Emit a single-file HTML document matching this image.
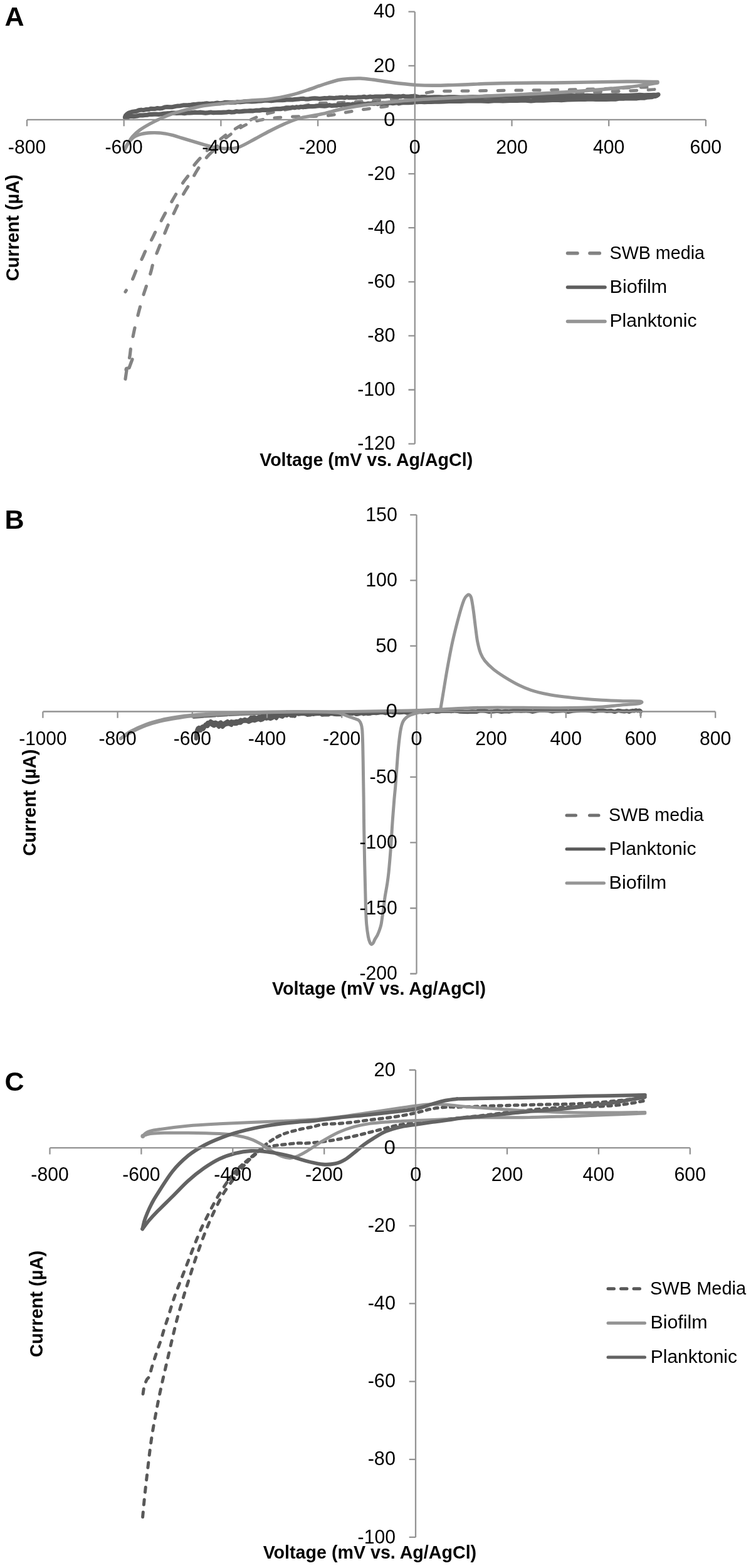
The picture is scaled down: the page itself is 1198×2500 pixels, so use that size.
<!DOCTYPE html>
<html><head><meta charset="utf-8"><title>Cyclic voltammetry</title>
<style>html,body{margin:0;padding:0;background:#fff}svg{display:block}text{font-family:'Liberation Sans', sans-serif}</style>
</head><body>
<svg width="1198" height="2500" viewBox="0 0 1198 2500">
<rect width="1198" height="2500" fill="#fff"/>
<path d="M200.0,465.3C201.9,462.0 208.5,451.1 211.4,445.3C214.3,439.5 215.1,435.7 217.6,430.3C220.1,424.9 223.9,417.9 226.4,412.7C228.9,407.5 230.0,404.2 232.6,399.0C235.2,393.8 239.5,386.6 242.2,381.4C244.9,376.2 246.2,372.9 248.9,367.7C251.6,362.5 255.5,355.2 258.2,350.1C260.9,345.0 262.4,342.1 265.2,337.1C267.9,332.1 271.8,325.2 274.7,320.1C277.6,315.0 279.7,311.3 282.7,306.3C285.7,301.3 289.9,294.4 292.8,290.0C295.7,285.6 297.4,284.5 300.3,280.0C303.2,275.5 305.2,269.4 310.2,262.8C315.2,256.2 326.9,244.0 330.3,240.2" fill="none" stroke="#838383" stroke-width="5.2" stroke-linecap="round" stroke-linejoin="round" stroke-dasharray="14 20.5" stroke-dashoffset="11"/>
<path d="M330.3,240.2C335.3,236.0 349.9,222.7 360.3,215.2C370.7,207.7 384.5,199.9 392.9,195.1C401.2,190.3 404.1,188.9 410.4,186.4C416.6,183.9 423.0,182.0 430.4,180.1C437.8,178.2 446.7,176.7 455.0,175.0C463.3,173.3 471.7,171.7 480.0,170.0C488.3,168.3 495.8,166.0 505.0,165.0C514.2,164.0 525.8,164.4 535.0,164.0C544.2,163.6 550.8,163.0 560.0,162.5C569.2,162.0 576.7,162.1 590.0,161.0C603.3,159.9 625.0,158.2 640.0,156.0C655.0,153.8 670.0,149.7 680.0,148.0C690.0,146.3 690.0,146.1 700.0,145.6C710.0,145.1 717.8,145.3 740.0,145.0C762.2,144.7 800.7,144.4 833.0,144.0C865.3,143.6 906.2,143.1 934.0,142.4C961.8,141.7 980.8,140.7 1000.0,140.0C1019.2,139.3 1040.8,138.7 1049.0,138.4" fill="none" stroke="#838383" stroke-width="5" stroke-linecap="round" stroke-linejoin="round" stroke-dasharray="10 18.5"/>
<path d="M200.0,604.3C200.5,601.1 201.8,591.0 203.0,585.0C204.2,579.0 206.0,573.5 207.0,568.0C208.0,562.5 208.1,557.3 209.0,551.7C209.9,546.1 211.4,540.0 212.6,534.2C213.8,528.4 215.0,522.6 216.4,516.7C217.8,510.9 219.5,504.7 220.9,499.1C222.3,493.6 223.7,488.6 225.1,483.4C226.5,478.2 228.0,472.9 229.6,467.8C231.2,462.7 232.8,458.2 234.6,452.8C236.4,447.4 238.5,441.1 240.2,435.3C241.9,429.5 242.9,423.8 244.7,418.2C246.4,412.6 248.6,407.4 250.7,402.0C252.8,396.6 255.0,391.2 257.2,385.7C259.4,380.2 261.8,374.3 264.0,368.9C266.2,363.5 268.3,358.2 270.7,353.1C273.1,348.0 275.8,343.1 278.2,338.1C280.6,333.1 282.6,328.3 285.2,323.1C287.8,317.9 291.1,312.1 294.0,307.0C296.9,301.9 299.2,298.9 302.7,292.8C306.2,286.7 310.6,277.4 315.2,270.3C319.8,263.2 326.1,255.2 330.3,250.2C334.5,245.2 338.6,241.9 340.3,240.2" fill="none" stroke="#838383" stroke-width="5.2" stroke-linecap="round" stroke-linejoin="round" stroke-dasharray="14 20.5"/>
<path d="M201,589.5L201.5,587.5L206,586.5L211,573" fill="none" stroke="#838383" stroke-width="5.2" stroke-linecap="round" stroke-linejoin="round"/>
<path d="M340.3,240.2C343.6,236.8 352.0,226.7 360.3,220.0C368.6,213.3 380.8,204.8 390.0,200.0C399.2,195.2 406.6,193.5 415.4,191.4C424.2,189.3 432.2,188.6 443.0,187.6C453.8,186.6 470.5,185.9 480.0,185.6C489.5,185.2 492.5,185.8 500.0,185.5C507.5,185.2 516.7,185.0 525.0,184.0C533.3,183.0 540.8,181.1 550.0,179.5C559.2,177.9 570.0,176.0 580.0,174.5C590.0,173.0 600.8,171.9 610.0,170.5C619.2,169.1 625.8,167.6 635.0,166.0C644.2,164.4 654.2,162.3 665.0,161.0C675.8,159.7 677.5,159.2 700.0,158.0C722.5,156.8 763.8,155.6 800.0,154.0C836.2,152.4 878.2,150.2 917.0,148.4C955.8,146.6 1011.0,144.6 1033.0,143.4C1055.0,142.2 1046.3,141.4 1049.0,141.0" fill="none" stroke="#838383" stroke-width="5" stroke-linecap="round" stroke-linejoin="round" stroke-dasharray="10 18.5"/>
<path d="M199.5,186.6L200.3,184.4L202.4,182.1L205.2,180.1L208.3,179.2L211.6,178.2L215.0,177.7L218.1,177.2L221.4,175.8L225.3,175.1L228.7,175.6L232.7,174.6L237.3,174.5L240.6,173.2L244.0,173.4L247.6,173.4L251.2,172.5L254.9,172.9L258.7,172.5L262.6,171.0L266.7,170.5L270.9,170.7L275.1,170.7L279.4,169.6L283.7,168.9L287.9,168.7L292.1,167.8L296.3,167.7L300.5,167.5L304.7,167.2L308.9,166.5L313.1,166.2L317.3,165.8L321.5,165.8L325.7,165.3L329.9,164.7L334.1,165.4L338.2,164.9L342.4,164.7L346.6,164.0L350.8,164.7L354.9,164.3L359.1,163.2L363.1,163.3L367.1,163.5L371.1,163.2L375.1,163.3L379.2,162.4L383.4,162.7L387.7,162.3L392.3,161.7L396.9,161.8L401.6,162.0L406.5,161.8L411.4,161.2L416.5,161.1L421.8,160.3L427.2,160.3L432.8,160.7L438.6,160.0L444.6,159.4L447.6,159.7L450.6,159.7L453.8,159.5L456.9,159.0L460.1,158.9L463.3,158.8L466.6,159.0L469.9,158.5L473.2,158.2L476.6,158.1L480.0,157.4L483.5,157.3L487.1,157.9L490.8,158.1L494.5,157.5L498.3,157.1L502.2,156.7L506.1,157.0L510.0,157.4L513.9,157.0L517.8,156.6L521.7,156.8L525.5,156.0L529.2,156.2L532.9,156.6L536.5,156.0L540.0,155.8L543.4,155.4L546.7,155.6L550.0,156.0L553.2,154.8L556.4,155.7L559.5,155.6L562.6,155.6L565.6,155.4L568.7,155.4L571.7,154.9L574.7,154.9L577.7,154.7L580.8,154.2L583.8,155.1L586.9,154.7L590.0,154.1L593.1,154.4L596.2,154.3L599.2,154.1L602.3,154.0L605.3,154.1L608.3,154.1L611.3,154.0L614.4,153.8L617.4,153.2L620.5,153.3L623.6,153.2L626.8,153.7L630.0,153.9L633.3,153.9L636.6,153.8L640.0,153.9L643.3,153.2L646.3,154.0L651.8,154.0L657.1,153.6L662.7,153.8L665.8,154.0L669.2,155.0L673.0,154.5L677.2,154.5L682.0,155.2L687.3,154.9L693.3,154.7L700.0,154.8L707.5,155.2L715.8,154.8L724.7,154.8L734.2,155.3L744.3,154.9L754.8,154.6L765.7,154.7L776.8,154.0L788.2,154.3L799.7,154.2L811.2,153.8L822.7,153.6L834.2,154.4L845.4,153.8L856.4,153.3L867.0,153.6L877.7,153.8L888.9,152.7L900.5,152.5L912.3,152.5L924.3,153.1L936.3,152.3L948.3,152.8L960.1,152.6L971.5,152.3L982.6,151.8L993.1,152.6L1003.0,152.2L1012.2,151.8L1020.4,151.3L1027.8,151.7L1034.0,151.4L1039.1,151.5L1043.2,151.2L1046.3,151.5L1050.1,150.8L1049.8,151.2L1048.0,152.1" fill="none" stroke="#5e5e5e" stroke-width="7" stroke-linecap="round" stroke-linejoin="round"/>
<path d="M199.5,187.5L203.2,187.0L206.3,185.6L209.7,185.2L213.0,185.6L216.8,185.1L220.1,184.6L223.5,183.8L227.6,183.8L231.3,183.5L235.7,183.1L238.9,182.3L242.3,182.4L245.8,182.1L249.4,182.2L253.1,182.3L256.8,182.0L260.6,181.4L264.6,181.0L268.8,180.7L273.0,180.2L277.2,180.0L281.5,180.4L285.8,180.1L290.0,180.1L294.2,180.6L298.4,180.0L302.6,180.0L306.8,179.6L311.0,179.2L315.2,179.5L319.4,179.2L323.6,179.6L327.8,180.1L332.0,179.6L336.2,179.0L340.3,179.7L344.5,179.5L348.7,179.3L352.8,179.4L357.0,179.1L361.1,179.0L365.1,178.3L369.1,178.9L373.1,178.7L377.1,177.5L381.3,178.0L385.5,177.7L390.0,177.2L394.6,177.0L399.3,176.6L404.0,176.8L408.9,176.0L414.0,176.1L419.1,175.1L424.5,175.4L430.0,175.0L435.7,174.0L441.6,173.6L447.6,173.6L450.6,173.0L453.8,172.5L456.9,171.9L460.1,171.8L463.3,172.0L466.6,171.1L469.9,171.7L473.2,170.7L476.6,171.2L480.0,170.3L483.5,170.8L487.1,170.3L490.8,169.9L494.5,169.7L498.3,169.7L502.2,169.4L506.1,168.9L510.0,168.6L513.9,168.8L517.8,169.1L521.7,168.6L525.5,167.7L529.2,168.5L532.9,168.2L536.5,168.2L540.0,167.2L543.4,167.7L546.7,166.8L550.0,167.3L553.2,166.7L556.4,166.5L559.5,167.2L562.6,166.1L565.6,166.5L568.7,166.8L571.7,165.9L574.7,165.7L577.7,166.4L580.8,165.8L583.8,166.0L586.9,165.1L590.0,165.3L593.1,165.0L596.2,165.5L599.2,164.7L602.3,165.6L605.3,164.4L608.3,165.2L611.3,164.3L614.4,164.5L617.4,165.0L620.5,164.2L623.6,164.1L626.8,164.6L630.0,164.2L633.3,163.7L636.6,164.7L640.0,163.6L643.3,163.3L646.3,163.6L651.8,163.6L657.1,163.5L662.7,162.5L665.8,162.6L669.2,162.1L673.0,162.4L677.2,162.7L682.0,162.5L687.3,162.5L693.3,162.2L700.0,162.2L707.6,161.9L716.0,161.5L725.2,161.1L735.0,161.5L745.4,161.0L756.3,160.7L767.5,161.0L778.9,161.4L790.5,160.4L802.2,160.8L813.7,160.5L825.1,160.5L836.3,160.0L847.0,160.8L857.3,159.9L867.0,160.1L876.4,159.7L885.9,159.1L895.5,159.6L905.0,158.9L914.4,158.6L923.7,158.3L932.9,158.3L941.8,158.0L950.5,158.4L958.9,158.1L966.9,158.4L974.5,158.2L981.7,158.1L988.3,157.0L994.5,157.1L1000.0,156.7L1004.9,157.0L1009.1,156.9L1012.8,157.0L1015.9,156.8L1020.9,156.1L1024.4,156.2L1028.2,156.1L1031.4,155.2L1035.4,154.8L1039.2,154.7L1042.3,153.7L1045.3,153.5L1048.0,152.2" fill="none" stroke="#5e5e5e" stroke-width="7.2" stroke-linecap="round" stroke-linejoin="round"/>
<path d="M199.0,238.0C199.8,236.5 201.9,232.4 204.0,229.0C206.1,225.6 208.5,221.2 211.7,217.5C214.9,213.8 218.7,210.4 223.4,207.0C228.1,203.6 234.4,200.1 240.0,197.0C245.6,193.9 251.2,191.1 256.8,188.6C262.4,186.1 267.9,183.8 273.5,181.9C279.1,180.0 284.6,178.5 290.2,176.9C295.8,175.3 301.3,173.9 306.9,172.6C312.5,171.2 315.2,170.1 323.6,168.8C332.0,167.5 345.9,166.3 357.0,165.0C368.1,163.7 377.8,162.2 390.0,161.0C402.2,159.8 417.5,159.6 430.0,158.0C442.5,156.4 455.0,153.8 465.0,151.4C475.0,149.0 481.7,146.5 490.0,143.8C498.3,141.1 506.7,137.7 515.0,135.0C523.3,132.3 532.9,129.1 540.0,127.5C547.1,125.9 551.9,125.9 557.7,125.5C563.5,125.1 568.8,124.8 575.0,125.0C581.2,125.2 588.3,126.2 595.0,127.0C601.7,127.8 607.5,128.9 615.0,130.0C622.5,131.1 631.7,132.4 640.0,133.3C648.3,134.2 656.7,135.1 665.0,135.6C673.3,136.1 681.7,136.3 690.0,136.3C698.3,136.3 706.7,136.0 715.0,135.8C723.3,135.6 725.8,135.5 740.0,135.0C754.2,134.5 773.3,133.2 800.0,132.7C826.7,132.1 866.7,132.1 900.0,131.7C933.3,131.2 975.2,130.2 1000.0,130.0C1024.8,129.8 1040.8,130.4 1049.0,130.5" fill="none" stroke="#959595" stroke-width="5.4" stroke-linecap="round" stroke-linejoin="round"/>
<path d="M199.0,238.0C199.8,236.5 201.7,232.2 204.0,229.0C206.3,225.8 209.3,221.6 213.0,219.0C216.7,216.4 221.4,214.9 225.9,213.7C230.4,212.5 234.8,212.1 240.0,211.8C245.2,211.5 251.2,211.6 256.8,212.1C262.4,212.6 267.9,213.8 273.5,215.1C279.1,216.4 284.6,218.4 290.2,220.1C295.8,221.8 301.3,223.4 306.9,225.1C312.5,226.8 318.1,228.5 323.6,230.1C329.1,231.7 333.9,233.3 340.0,234.5C346.1,235.7 353.3,236.9 360.0,237.0C366.7,237.1 372.5,237.4 380.0,235.0C387.5,232.6 396.7,226.8 405.0,222.5C413.3,218.2 421.7,213.2 430.0,209.0C438.3,204.8 446.7,200.5 455.0,197.0C463.3,193.5 470.0,190.6 480.0,188.0C490.0,185.4 505.0,183.6 515.0,181.4C525.0,179.2 531.7,176.9 540.0,175.0C548.3,173.1 556.7,171.4 565.0,170.0C573.3,168.6 581.7,167.5 590.0,166.4C598.3,165.3 606.7,164.3 615.0,163.4C623.3,162.5 631.7,161.7 640.0,161.0C648.3,160.3 655.0,159.7 665.0,159.0C675.0,158.3 677.5,158.2 700.0,157.0C722.5,155.8 766.7,153.7 800.0,152.0C833.3,150.3 866.7,149.2 900.0,147.0C933.3,144.8 975.2,141.5 1000.0,139.0C1024.8,136.5 1040.8,133.2 1049.0,132.0" fill="none" stroke="#959595" stroke-width="5.4" stroke-linecap="round" stroke-linejoin="round"/>
<path d="M43,190.9H1126M661.8,18.7V707.7M43.0,190.9v10.3M197.7,190.9v10.3M352.4,190.9v10.3M507.1,190.9v10.3M661.8,190.9v10.3M816.5,190.9v10.3M971.2,190.9v10.3M1125.9,190.9v10.3M661.8,18.7h-10.3M661.8,104.8h-10.3M661.8,190.9h-10.3M661.8,277.1h-10.3M661.8,363.2h-10.3M661.8,449.3h-10.3M661.8,535.4h-10.3M661.8,621.5h-10.3M661.8,707.7h-10.3" fill="none" stroke="#939393" stroke-width="2.3"/>
<text x="43.0" y="244.5" font-size="31.5" text-anchor="middle" font-weight="normal" fill="#000" textLength="60.3" lengthAdjust="spacingAndGlyphs">-800</text>
<text x="197.7" y="244.5" font-size="31.5" text-anchor="middle" font-weight="normal" fill="#000" textLength="60.3" lengthAdjust="spacingAndGlyphs">-600</text>
<text x="352.4" y="244.5" font-size="31.5" text-anchor="middle" font-weight="normal" fill="#000" textLength="60.3" lengthAdjust="spacingAndGlyphs">-400</text>
<text x="507.1" y="244.5" font-size="31.5" text-anchor="middle" font-weight="normal" fill="#000" textLength="60.3" lengthAdjust="spacingAndGlyphs">-200</text>
<text x="661.8" y="244.5" font-size="31.5" text-anchor="middle" font-weight="normal" fill="#000" textLength="18.4" lengthAdjust="spacingAndGlyphs">0</text>
<text x="816.5" y="244.5" font-size="31.5" text-anchor="middle" font-weight="normal" fill="#000" textLength="50.6" lengthAdjust="spacingAndGlyphs">200</text>
<text x="971.2" y="244.5" font-size="31.5" text-anchor="middle" font-weight="normal" fill="#000" textLength="50.6" lengthAdjust="spacingAndGlyphs">400</text>
<text x="1125.9" y="244.5" font-size="31.5" text-anchor="middle" font-weight="normal" fill="#000" textLength="50.6" lengthAdjust="spacingAndGlyphs">600</text>
<text x="630.5" y="28.4" font-size="31.5" text-anchor="end" font-weight="normal" fill="#000" textLength="34.5" lengthAdjust="spacingAndGlyphs">40</text>
<text x="630.5" y="114.5" font-size="31.5" text-anchor="end" font-weight="normal" fill="#000" textLength="34.5" lengthAdjust="spacingAndGlyphs">20</text>
<text x="630.5" y="200.6" font-size="31.5" text-anchor="end" font-weight="normal" fill="#000" textLength="18.4" lengthAdjust="spacingAndGlyphs">0</text>
<text x="630.5" y="286.8" font-size="31.5" text-anchor="end" font-weight="normal" fill="#000" textLength="44.2" lengthAdjust="spacingAndGlyphs">-20</text>
<text x="630.5" y="372.9" font-size="31.5" text-anchor="end" font-weight="normal" fill="#000" textLength="44.2" lengthAdjust="spacingAndGlyphs">-40</text>
<text x="630.5" y="459.0" font-size="31.5" text-anchor="end" font-weight="normal" fill="#000" textLength="44.2" lengthAdjust="spacingAndGlyphs">-60</text>
<text x="630.5" y="545.1" font-size="31.5" text-anchor="end" font-weight="normal" fill="#000" textLength="44.2" lengthAdjust="spacingAndGlyphs">-80</text>
<text x="630.5" y="631.2" font-size="31.5" text-anchor="end" font-weight="normal" fill="#000" textLength="60.3" lengthAdjust="spacingAndGlyphs">-100</text>
<text x="630.5" y="717.4" font-size="31.5" text-anchor="end" font-weight="normal" fill="#000" textLength="60.3" lengthAdjust="spacingAndGlyphs">-120</text>
<text x="584.2" y="743" font-size="29.3" text-anchor="middle" font-weight="bold" fill="#000" textLength="340" lengthAdjust="spacingAndGlyphs">Voltage (mV vs. Ag/AgCl)</text>
<text x="30.5" y="363.2" font-size="29.3" text-anchor="middle" font-weight="bold" fill="#000" textLength="170" lengthAdjust="spacingAndGlyphs" transform="rotate(-90 30.5 363.2)">Current (µA)</text>
<text x="7.5" y="40.5" font-size="43" text-anchor="start" font-weight="bold" fill="#000">A</text>
<path d="M905.5,403.7H965" fill="none" stroke="#838383" stroke-width="5.5" stroke-linecap="round" stroke-linejoin="round" stroke-dasharray="15.5 19.9"/>
<path d="M905.5,457.9H965" fill="none" stroke="#5e5e5e" stroke-width="5.5" stroke-linecap="round" stroke-linejoin="round"/>
<path d="M905.5,512.4H965" fill="none" stroke="#959595" stroke-width="5.5" stroke-linecap="round" stroke-linejoin="round"/>
<text x="972.5" y="412.8" font-size="29.5" text-anchor="start" font-weight="normal" fill="#000" textLength="151.5" lengthAdjust="spacingAndGlyphs">SWB media</text>
<text x="972.5" y="467.2" font-size="29.5" text-anchor="start" font-weight="normal" fill="#000" textLength="91.7" lengthAdjust="spacingAndGlyphs">Biofilm</text>
<text x="972.5" y="521.4" font-size="29.5" text-anchor="start" font-weight="normal" fill="#000" textLength="139" lengthAdjust="spacingAndGlyphs">Planktonic</text>
<path d="M309,1144 C340,1141.5 380,1138.5 450,1137 S600,1135.5 664,1135 S900,1134 1022,1133.5" fill="none" stroke="#707070" stroke-width="4" stroke-linecap="round" stroke-linejoin="round" stroke-dasharray="16 3"/>
<path d="M312.8,1173.1L312.9,1171.6L313.1,1168.0L313.3,1166.7L314.0,1164.5L315.5,1160.8L317.6,1159.7L320.0,1161.7L322.1,1158.8L324.3,1157.7L326.2,1158.9L327.5,1155.1L329.1,1154.5L331.3,1152.0L333.5,1152.0L336.0,1149.9L338.8,1151.5L341.1,1152.4L343.6,1151.5L346.4,1152.8L349.2,1153.1L352.1,1151.3L355.0,1153.9L357.7,1153.1L360.3,1151.6L362.9,1149.9L365.8,1152.2L369.1,1150.1L371.6,1150.6L374.4,1150.7L377.4,1149.7L380.6,1149.9L383.9,1147.6L387.2,1148.5L390.6,1146.8L393.8,1148.0L397.0,1147.3L400.1,1144.0L403.2,1143.5L406.3,1143.3L409.5,1145.4L412.6,1142.9L415.7,1143.1L418.8,1141.3L422.0,1141.6L425.1,1140.6L428.3,1140.0L431.4,1140.3L434.6,1139.8L437.7,1140.5L440.8,1139.3L443.9,1139.7L447.1,1139.1L450.5,1139.2L454.0,1137.7L457.6,1135.5L461.0,1137.6L464.2,1137.7L466.9,1137.3L469.1,1135.8L470.0,1136.3" fill="none" stroke="#5a5a5a" stroke-width="6" stroke-linecap="round" stroke-linejoin="round"/>
<path d="M312.8,1177.7L312.9,1174.4L313.1,1173.6L313.3,1168.9L314.0,1168.7L315.5,1166.3L317.6,1164.0L320.0,1165.0L322.1,1162.1L324.3,1162.8L326.2,1159.7L327.5,1157.9L329.1,1157.5L331.3,1158.0L333.5,1154.3L336.0,1154.4L338.8,1156.1L341.1,1157.5L343.6,1156.2L346.4,1155.9L349.2,1159.1L352.1,1155.4L355.0,1159.1L357.7,1156.3L360.3,1155.2L362.9,1154.5L365.8,1154.6L369.1,1156.1L371.6,1152.9L374.4,1154.2L377.4,1154.0L380.6,1152.4L383.9,1152.7L387.2,1150.0L390.6,1149.5L393.8,1149.7L397.0,1151.2L400.1,1149.6L403.2,1148.5L406.3,1149.2L409.5,1148.0L412.6,1146.8L415.7,1148.4L418.8,1147.4L422.0,1144.9L425.1,1145.9L428.3,1145.1L431.4,1146.2L434.6,1145.0L437.7,1142.6L440.8,1145.2L443.9,1141.0L447.1,1141.9L450.5,1143.0L454.0,1140.0L457.6,1141.1L461.0,1138.8L464.2,1141.3L466.9,1141.5L469.1,1140.4L470.0,1141.7" fill="none" stroke="#5a5a5a" stroke-width="6" stroke-linecap="round" stroke-linejoin="round"/>
<path d="M470.0,1138.1L473.5,1137.8L476.5,1138.5L480.0,1138.0L483.9,1137.8L488.1,1138.5L490.4,1139.7L492.7,1139.4L495.1,1139.3L497.5,1138.1L500.0,1138.8L502.6,1138.2L505.3,1137.9L508.1,1137.8L511.1,1138.0L514.1,1139.6L517.3,1139.3L520.5,1139.2L523.8,1139.2L527.0,1137.8L530.4,1138.1L533.7,1138.7L537.0,1138.9L540.3,1139.1L543.6,1139.1L546.8,1137.4L550.0,1138.4L553.1,1138.5L556.2,1138.1L559.2,1137.3L562.2,1137.8L565.2,1136.9L568.1,1138.7L571.1,1138.4L574.1,1137.6L577.2,1137.0L580.2,1138.2L583.3,1137.4L586.5,1137.9L589.8,1137.8L593.1,1136.9L596.5,1136.6L600.0,1136.9L603.7,1136.5L607.5,1135.8L611.5,1136.0L615.7,1137.0L619.9,1135.2L624.2,1135.1L628.5,1136.3L632.9,1135.4L637.2,1135.9L641.4,1135.7L645.6,1135.3L649.6,1136.6L653.5,1134.8L657.2,1135.2L660.7,1134.6L664.0,1135.5L666.9,1134.6L669.4,1134.7L673.5,1135.4L676.7,1134.4L679.8,1134.8L683.0,1135.4L687.2,1133.5L689.7,1133.4L692.6,1133.7L696.0,1134.8L700.0,1134.5L704.5,1133.6L709.4,1133.7L714.8,1133.4L720.5,1133.9L726.5,1133.0L732.8,1134.4L739.3,1134.8L746.0,1134.9L752.8,1134.4L759.7,1134.8L766.6,1132.7L773.5,1133.3L780.3,1134.8L787.1,1134.3L793.6,1133.5L800.0,1134.7L806.2,1134.0L812.5,1134.4L818.8,1133.2L825.0,1133.0L831.2,1133.5L837.5,1132.9L843.8,1133.4L850.0,1134.7L856.2,1133.3L862.5,1132.6L868.8,1132.7L875.0,1133.0L881.2,1134.3L887.5,1133.4L893.8,1133.2L900.0,1132.8L906.4,1134.8L913.0,1133.5L919.9,1133.1L926.8,1132.7L933.9,1132.7L940.9,1133.0L947.9,1134.1L954.9,1133.0L961.6,1132.7L968.2,1133.7L974.5,1133.2L980.5,1134.8L986.1,1132.9L991.2,1133.8L995.9,1134.3L1000.0,1133.5L1003.6,1134.8L1006.6,1133.6L1009.3,1133.1L1011.5,1133.4L1014.9,1132.5L1017.2,1133.3L1019.9,1132.7L1022.0,1134.1" fill="none" stroke="#5a5a5a" stroke-width="6.5" stroke-linecap="round" stroke-linejoin="round"/>
<path d="M1022,1132V1141" fill="none" stroke="#5a5a5a" stroke-width="3" stroke-linecap="round" stroke-linejoin="round"/>
<path d="M192.5,1177.6C195.0,1176.1 200.9,1171.8 207.6,1168.4C214.3,1165.0 224.2,1160.1 232.6,1157.0C240.9,1153.9 249.3,1151.6 257.7,1149.6C266.1,1147.6 274.4,1146.3 282.7,1145.0C291.0,1143.7 297.3,1142.5 307.7,1141.5C318.1,1140.5 330.7,1139.8 345.3,1139.0C359.9,1138.2 374.6,1137.5 395.4,1136.8C416.2,1136.1 442.6,1135.4 470.0,1135.0C497.4,1134.6 530.0,1134.8 560.0,1134.5C590.0,1134.2 626.2,1133.6 650.0,1133.0C673.8,1132.4 693.9,1131.3 702.7,1131.0" fill="none" stroke="#959595" stroke-width="5" stroke-linecap="round" stroke-linejoin="round"/>
<path d="M192.5,1177.6C195.0,1175.7 200.9,1170.2 207.6,1166.4C214.3,1162.6 224.2,1158.1 232.6,1155.0C240.9,1151.9 249.3,1149.6 257.7,1147.6C266.1,1145.6 274.4,1144.3 282.7,1143.0C291.0,1141.7 297.3,1140.9 307.7,1140.0C318.1,1139.1 330.7,1138.3 345.3,1137.6C359.9,1136.9 374.6,1136.3 395.4,1135.8C416.2,1135.3 449.2,1134.7 470.0,1134.6C490.8,1134.5 508.3,1135.0 520.0,1135.3C531.7,1135.6 534.4,1135.5 540.0,1136.5C545.6,1137.5 548.9,1139.8 553.4,1141.4C557.9,1143.0 563.5,1144.8 566.7,1146.0C569.9,1147.2 571.1,1147.2 572.7,1148.7C574.3,1150.2 575.2,1152.1 576.1,1154.7C577.0,1157.3 577.4,1158.8 577.8,1164.1C578.2,1169.4 578.4,1176.3 578.7,1186.8C579.0,1197.2 579.2,1212.9 579.4,1226.8C579.6,1240.7 579.9,1253.9 580.1,1270.0C580.3,1286.1 580.4,1305.6 580.7,1323.4C581.0,1341.2 581.3,1359.0 581.7,1376.8C582.1,1394.6 582.7,1418.3 583.0,1430.0C583.3,1441.7 583.1,1439.5 583.4,1446.7C583.7,1453.9 584.0,1465.6 584.7,1473.4C585.4,1481.2 586.5,1488.6 587.4,1493.5C588.3,1498.4 589.2,1500.8 590.1,1502.8C591.0,1504.8 591.9,1505.6 592.8,1505.7C593.7,1505.8 594.5,1504.9 595.4,1503.5C596.3,1502.1 597.0,1499.6 598.1,1497.5C599.2,1495.4 600.9,1493.2 602.1,1490.8C603.3,1488.3 604.4,1485.7 605.4,1482.8C606.4,1479.9 607.3,1477.2 608.1,1473.4C608.9,1469.6 609.4,1464.5 610.1,1460.0C610.8,1455.5 611.4,1451.7 612.1,1446.7C612.8,1441.7 613.2,1436.1 614.1,1430.0C615.0,1423.9 616.5,1416.8 617.5,1410.2C618.5,1403.6 619.1,1400.2 620.1,1390.2C621.1,1380.2 622.5,1363.5 623.5,1350.1C624.5,1336.7 625.2,1322.5 626.1,1310.0C627.0,1297.5 628.0,1284.4 628.8,1275.0C629.6,1265.6 630.1,1261.6 630.8,1253.6C631.5,1245.6 632.1,1235.7 632.8,1226.8C633.5,1217.9 634.1,1207.9 634.8,1200.1C635.5,1192.3 636.1,1185.9 636.8,1180.1C637.5,1174.3 638.1,1169.4 638.8,1165.4C639.5,1161.4 640.0,1158.8 640.8,1156.1C641.6,1153.4 642.3,1151.4 643.5,1149.4C644.7,1147.4 646.3,1145.6 648.2,1144.0C650.1,1142.4 652.1,1141.2 654.9,1140.0C657.7,1138.8 660.7,1137.7 664.9,1136.7C669.1,1135.7 674.4,1134.8 680.2,1134.0C686.1,1133.2 696.2,1132.5 700.0,1132.0C703.8,1131.5 702.2,1131.2 702.7,1131.0" fill="none" stroke="#959595" stroke-width="5" stroke-linecap="round" stroke-linejoin="round"/>
<path d="M702.7,1131.0C703.4,1127.0 704.9,1117.7 706.7,1107.0C708.5,1096.3 710.9,1080.8 713.4,1066.9C715.9,1053.0 718.7,1037.4 721.8,1023.5C724.9,1009.6 728.8,994.5 731.8,983.4C734.8,972.3 737.9,962.4 740.1,956.7C742.3,951.0 743.7,950.8 745.1,949.4C746.5,948.0 747.4,947.7 748.5,948.4C749.6,949.1 750.7,949.2 751.8,953.4C752.9,957.6 754.1,965.6 755.2,973.4C756.3,981.2 757.4,991.6 758.5,1000.0C759.6,1008.4 760.4,1016.5 761.8,1023.5C763.2,1030.5 764.8,1036.9 766.8,1041.9C768.8,1046.9 770.1,1049.4 773.5,1053.6C776.9,1057.8 781.9,1062.7 786.9,1066.9C791.9,1071.1 796.9,1074.4 803.6,1078.6C810.3,1082.8 819.8,1088.4 827.0,1092.0C834.2,1095.6 839.2,1097.8 847.0,1100.3C854.8,1102.8 864.8,1105.2 873.7,1107.0C882.6,1108.8 891.5,1109.9 900.4,1111.0C909.3,1112.1 917.1,1112.8 927.1,1113.7C937.1,1114.6 949.4,1115.6 960.5,1116.3C971.6,1117.0 984.2,1117.4 993.9,1117.7C1003.6,1118.0 1013.9,1117.7 1018.9,1118.0C1023.9,1118.3 1024.2,1119.0 1023.9,1119.7C1023.6,1120.4 1022.3,1121.3 1017.3,1122.0C1012.3,1122.7 1003.4,1122.9 993.9,1123.7C984.4,1124.5 977.2,1126.2 960.5,1127.0C943.8,1127.8 921.5,1128.5 893.7,1128.7C865.9,1128.9 818.6,1128.0 793.6,1128.0C768.6,1128.0 758.6,1128.5 743.5,1129.0C728.4,1129.5 709.5,1130.7 702.7,1131.0" fill="none" stroke="#959595" stroke-width="5" stroke-linecap="round" stroke-linejoin="round"/>
<path d="M68.6,1134.5H1141.2M664.5,820.8V1552.5M68.4,1134.5v10.3M187.6,1134.5v10.3M306.8,1134.5v10.3M426.0,1134.5v10.3M545.2,1134.5v10.3M664.4,1134.5v10.3M783.6,1134.5v10.3M902.8,1134.5v10.3M1022.0,1134.5v10.3M1141.2,1134.5v10.3M664.5,820.8h-10.3M664.5,925.3h-10.3M664.5,1029.9h-10.3M664.5,1134.4h-10.3M664.5,1238.9h-10.3M664.5,1343.4h-10.3M664.5,1448.0h-10.3M664.5,1552.5h-10.3" fill="none" stroke="#939393" stroke-width="2.3"/>
<text x="68.4" y="1188" font-size="31.5" text-anchor="middle" font-weight="normal" fill="#000" textLength="76.4" lengthAdjust="spacingAndGlyphs">-1000</text>
<text x="187.6" y="1188" font-size="31.5" text-anchor="middle" font-weight="normal" fill="#000" textLength="60.3" lengthAdjust="spacingAndGlyphs">-800</text>
<text x="306.8" y="1188" font-size="31.5" text-anchor="middle" font-weight="normal" fill="#000" textLength="60.3" lengthAdjust="spacingAndGlyphs">-600</text>
<text x="426.0" y="1188" font-size="31.5" text-anchor="middle" font-weight="normal" fill="#000" textLength="60.3" lengthAdjust="spacingAndGlyphs">-400</text>
<text x="545.2" y="1188" font-size="31.5" text-anchor="middle" font-weight="normal" fill="#000" textLength="60.3" lengthAdjust="spacingAndGlyphs">-200</text>
<text x="664.4" y="1188" font-size="31.5" text-anchor="middle" font-weight="normal" fill="#000" textLength="18.4" lengthAdjust="spacingAndGlyphs">0</text>
<text x="783.6" y="1188" font-size="31.5" text-anchor="middle" font-weight="normal" fill="#000" textLength="50.6" lengthAdjust="spacingAndGlyphs">200</text>
<text x="902.8" y="1188" font-size="31.5" text-anchor="middle" font-weight="normal" fill="#000" textLength="50.6" lengthAdjust="spacingAndGlyphs">400</text>
<text x="1022.0" y="1188" font-size="31.5" text-anchor="middle" font-weight="normal" fill="#000" textLength="50.6" lengthAdjust="spacingAndGlyphs">600</text>
<text x="1141.2" y="1188" font-size="31.5" text-anchor="middle" font-weight="normal" fill="#000" textLength="50.6" lengthAdjust="spacingAndGlyphs">800</text>
<text x="633.8" y="830.5" font-size="31.5" text-anchor="end" font-weight="normal" fill="#000" textLength="50.6" lengthAdjust="spacingAndGlyphs">150</text>
<text x="633.8" y="935.0" font-size="31.5" text-anchor="end" font-weight="normal" fill="#000" textLength="50.6" lengthAdjust="spacingAndGlyphs">100</text>
<text x="633.8" y="1039.6" font-size="31.5" text-anchor="end" font-weight="normal" fill="#000" textLength="34.5" lengthAdjust="spacingAndGlyphs">50</text>
<text x="633.8" y="1144.1" font-size="31.5" text-anchor="end" font-weight="normal" fill="#000" textLength="18.4" lengthAdjust="spacingAndGlyphs">0</text>
<text x="633.8" y="1248.6" font-size="31.5" text-anchor="end" font-weight="normal" fill="#000" textLength="44.2" lengthAdjust="spacingAndGlyphs">-50</text>
<text x="633.8" y="1353.1" font-size="31.5" text-anchor="end" font-weight="normal" fill="#000" textLength="60.3" lengthAdjust="spacingAndGlyphs">-100</text>
<text x="633.8" y="1457.7" font-size="31.5" text-anchor="end" font-weight="normal" fill="#000" textLength="60.3" lengthAdjust="spacingAndGlyphs">-150</text>
<text x="633.8" y="1562.2" font-size="31.5" text-anchor="end" font-weight="normal" fill="#000" textLength="60.3" lengthAdjust="spacingAndGlyphs">-200</text>
<text x="604.5" y="1586.2" font-size="29.3" text-anchor="middle" font-weight="bold" fill="#000" textLength="341" lengthAdjust="spacingAndGlyphs">Voltage (mV vs. Ag/AgCl)</text>
<text x="56.6" y="1279.7" font-size="29.3" text-anchor="middle" font-weight="bold" fill="#000" textLength="170" lengthAdjust="spacingAndGlyphs" transform="rotate(-90 56.6 1279.7)">Current (µA)</text>
<text x="7.5" y="843" font-size="43" text-anchor="start" font-weight="bold" fill="#000">B</text>
<path d="M904,1300H963.5" fill="none" stroke="#707070" stroke-width="5" stroke-linecap="round" stroke-linejoin="round" stroke-dasharray="14.5 22"/>
<path d="M904,1353.8H963.5" fill="none" stroke="#5a5a5a" stroke-width="5" stroke-linecap="round" stroke-linejoin="round"/>
<path d="M904,1408H963.5" fill="none" stroke="#959595" stroke-width="5" stroke-linecap="round" stroke-linejoin="round"/>
<text x="971" y="1308.7" font-size="29.5" text-anchor="start" font-weight="normal" fill="#000" textLength="151.5" lengthAdjust="spacingAndGlyphs">SWB media</text>
<text x="971.5" y="1362.9" font-size="29.5" text-anchor="start" font-weight="normal" fill="#000" textLength="139" lengthAdjust="spacingAndGlyphs">Planktonic</text>
<text x="971.5" y="1417" font-size="29.5" text-anchor="start" font-weight="normal" fill="#000" textLength="91.7" lengthAdjust="spacingAndGlyphs">Biofilm</text>
<path d="M228.1,2222.5C228.4,2220.5 229.1,2214.2 230.1,2210.5C231.1,2206.8 232.7,2202.7 234.0,2200.0C235.3,2197.3 236.8,2197.8 238.1,2194.5C239.4,2191.2 240.3,2186.4 242.1,2180.4C243.9,2174.4 246.8,2165.4 249.1,2158.4C251.4,2151.4 253.9,2145.1 256.1,2138.4C258.3,2131.7 260.1,2124.7 262.1,2118.3C264.1,2112.0 266.1,2106.6 268.1,2100.3C270.1,2094.0 272.2,2086.6 274.2,2080.3C276.2,2074.0 278.0,2068.3 280.2,2062.3C282.4,2056.3 284.9,2050.2 287.2,2044.2C289.5,2038.2 291.9,2032.2 294.2,2026.2C296.5,2020.2 298.9,2014.2 301.2,2008.2C303.5,2002.2 305.7,1996.4 308.2,1990.1C310.7,1983.8 313.5,1976.4 316.2,1970.1C318.9,1963.8 321.3,1958.1 324.2,1952.1C327.1,1946.1 330.3,1939.9 333.3,1934.1C336.3,1928.2 339.1,1922.7 342.3,1917.0C345.5,1911.3 348.5,1906.1 352.3,1900.0C356.1,1893.9 363.1,1883.5 365.3,1880.2" fill="none" stroke="#585858" stroke-width="5" stroke-linecap="round" stroke-linejoin="round" stroke-dasharray="8 11.8"/>
<path d="M365.3,1880.2C367.8,1877.3 374.5,1868.5 380.3,1862.7C386.1,1856.9 394.5,1850.2 400.4,1845.2C406.2,1840.2 410.4,1836.8 415.4,1832.6C420.4,1828.4 424.6,1824.0 430.4,1820.0C436.2,1816.0 442.9,1811.9 450.4,1808.8C457.9,1805.7 467.2,1803.4 475.5,1801.3C483.8,1799.2 493.4,1797.8 500.0,1796.3C506.6,1794.8 508.4,1793.4 515.1,1792.6C521.8,1791.8 531.9,1792.0 540.2,1791.4C548.6,1790.8 556.9,1789.9 565.2,1788.9C573.6,1787.9 581.9,1786.6 590.3,1785.6C598.6,1784.5 606.9,1783.7 615.3,1782.6C623.6,1781.5 632.0,1780.4 640.4,1778.9C648.8,1777.4 657.1,1775.7 665.4,1773.8C673.7,1771.9 682.0,1769.1 690.4,1767.6C698.8,1766.1 708.3,1765.4 715.5,1765.0C722.7,1764.6 719.3,1765.4 733.4,1765.0C747.5,1764.6 777.7,1763.5 800.0,1762.8C822.3,1762.1 844.7,1761.6 867.0,1761.0C889.3,1760.4 911.5,1760.7 933.7,1759.4C956.0,1758.1 984.8,1755.0 1000.5,1753.4C1016.2,1751.8 1023.4,1750.6 1028.0,1750.0" fill="none" stroke="#585858" stroke-width="5.2" stroke-linecap="round" stroke-linejoin="round" stroke-dasharray="5.5 7.3"/>
<path d="M227.6,2418.7C228.0,2414.2 229.3,2400.3 230.1,2392.0C230.9,2383.7 231.7,2376.4 232.6,2368.6C233.5,2360.8 234.2,2354.3 235.3,2345.0C236.4,2335.7 237.8,2322.8 239.1,2312.7C240.4,2302.6 241.6,2293.9 243.1,2284.6C244.6,2275.2 246.4,2265.6 248.1,2256.6C249.8,2247.6 251.3,2239.5 253.1,2230.5C254.9,2221.5 257.1,2211.5 259.1,2202.5C261.1,2193.5 263.1,2185.1 265.1,2176.4C267.1,2167.7 269.1,2159.1 271.1,2150.4C273.1,2141.7 275.2,2132.8 277.2,2124.4C279.2,2116.1 281.0,2108.3 283.2,2100.3C285.4,2092.3 288.0,2083.6 290.2,2076.3C292.4,2069.0 294.0,2063.3 296.2,2056.3C298.4,2049.3 300.9,2041.6 303.2,2034.2C305.5,2026.8 307.9,2019.2 310.2,2012.2C312.5,2005.2 314.7,1999.1 317.2,1992.1C319.7,1985.1 322.5,1977.1 325.2,1970.1C327.9,1963.1 330.6,1956.4 333.3,1950.1C336.0,1943.8 338.5,1938.1 341.3,1932.1C344.1,1926.1 347.5,1919.3 350.3,1914.0C353.1,1908.7 355.0,1905.2 358.3,1900.0C361.6,1894.8 368.3,1885.6 370.3,1882.7" fill="none" stroke="#585858" stroke-width="5" stroke-linecap="round" stroke-linejoin="round" stroke-dasharray="8 11.8"/>
<path d="M370.3,1882.7C372.8,1879.4 380.2,1868.8 385.3,1862.7C390.4,1856.6 395.6,1851.0 401.0,1846.0C406.4,1841.0 412.6,1835.7 417.9,1832.6C423.2,1829.5 427.5,1828.8 432.9,1827.6C438.3,1826.3 443.3,1825.9 450.4,1825.1C457.5,1824.3 468.9,1823.0 475.5,1822.6C482.1,1822.2 483.4,1823.1 490.0,1822.7C496.6,1822.3 506.7,1821.2 515.1,1820.2C523.5,1819.2 531.9,1817.9 540.2,1816.4C548.6,1814.9 556.9,1813.3 565.2,1811.4C573.6,1809.5 581.9,1807.3 590.3,1805.2C598.6,1803.1 607.8,1800.8 615.3,1798.9C622.8,1797.0 627.1,1795.4 635.4,1793.9C643.7,1792.4 654.2,1791.3 665.0,1790.0C675.8,1788.7 683.2,1787.8 700.0,1786.0C716.8,1784.2 743.8,1781.5 766.0,1779.0C788.2,1776.5 810.7,1773.2 833.0,1771.0C855.3,1768.8 877.6,1766.8 900.0,1765.5C922.4,1764.2 950.4,1764.3 967.1,1763.4C983.9,1762.5 990.4,1761.4 1000.5,1760.0C1010.6,1758.6 1023.4,1755.8 1028.0,1755.0" fill="none" stroke="#585858" stroke-width="5.2" stroke-linecap="round" stroke-linejoin="round" stroke-dasharray="5.5 7.3"/>
<path d="M227.5,1811.3C228.8,1810.2 231.2,1806.7 235.0,1805.0C238.8,1803.3 239.1,1803.0 250.0,1801.3C260.9,1799.6 283.5,1796.6 300.2,1795.0C316.9,1793.4 333.6,1792.7 350.3,1791.8C367.0,1790.9 383.7,1790.2 400.4,1789.5C417.1,1788.8 433.8,1788.2 450.4,1787.5C467.0,1786.8 485.1,1786.1 500.0,1785.0C514.9,1783.9 525.0,1782.9 540.0,1781.0C555.0,1779.1 573.6,1776.2 590.3,1773.8C607.0,1771.3 625.8,1768.4 640.4,1766.3C655.0,1764.2 668.1,1762.3 678.0,1761.3C687.9,1760.3 693.5,1760.4 700.0,1760.5C706.5,1760.6 708.4,1761.0 716.7,1761.8C725.0,1762.5 736.1,1763.9 750.0,1765.0C763.9,1766.1 786.1,1767.4 800.0,1768.4C813.9,1769.4 816.9,1770.0 833.6,1770.8C850.3,1771.6 878.0,1773.0 900.3,1773.5C922.5,1774.0 945.7,1774.0 967.1,1774.0C988.5,1774.0 1018.6,1773.6 1028.9,1773.5" fill="none" stroke="#959595" stroke-width="5" stroke-linecap="round" stroke-linejoin="round"/>
<path d="M227.5,1811.3C229.6,1810.7 234.2,1808.3 240.0,1807.5C245.8,1806.7 252.6,1806.5 262.6,1806.3C272.6,1806.1 285.6,1806.1 300.2,1806.3C314.8,1806.5 337.8,1807.0 350.3,1807.6C362.8,1808.2 367.0,1808.5 375.3,1810.0C383.6,1811.5 393.3,1813.8 400.4,1816.3C407.5,1818.8 412.5,1821.9 417.9,1825.0C423.3,1828.1 427.5,1831.8 432.9,1835.0C438.3,1838.2 445.4,1842.0 450.4,1843.9C455.4,1845.8 458.8,1846.6 463.0,1846.4C467.2,1846.2 471.0,1844.9 475.5,1843.0C480.0,1841.1 483.4,1839.2 490.0,1835.2C496.6,1831.2 506.7,1823.9 515.1,1818.9C523.5,1813.9 531.9,1809.0 540.2,1805.2C548.6,1801.5 556.9,1798.7 565.2,1796.4C573.6,1794.1 581.9,1792.7 590.3,1791.4C598.6,1790.2 606.9,1789.5 615.3,1788.9C623.6,1788.3 626.3,1788.2 640.4,1787.6C654.5,1786.9 678.9,1786.0 700.0,1785.0C721.1,1784.0 744.5,1782.3 766.8,1781.8C789.1,1781.3 811.4,1782.1 833.6,1781.8C855.9,1781.5 878.0,1780.7 900.3,1780.0C922.5,1779.3 945.7,1778.3 967.1,1777.5C988.5,1776.7 1018.6,1775.4 1028.9,1775.0" fill="none" stroke="#959595" stroke-width="5" stroke-linecap="round" stroke-linejoin="round"/>
<circle cx="227.8" cy="1811.5" r="3.4" fill="#959595"/>
<path d="M227.2,1959.5C227.8,1957.2 229.2,1950.2 230.5,1946.0C231.8,1941.8 233.2,1938.3 235.0,1934.0C236.8,1929.7 239.0,1924.8 241.5,1920.0C244.0,1915.2 244.4,1914.0 250.0,1905.3C255.6,1896.6 266.7,1878.2 275.1,1867.7C283.5,1857.2 291.9,1849.5 300.2,1842.6C308.5,1835.7 316.8,1831.0 325.2,1826.4C333.6,1821.8 341.9,1818.3 350.3,1815.0C358.7,1811.7 367.0,1808.8 375.3,1806.3C383.6,1803.8 392.0,1801.9 400.4,1800.0C408.8,1798.1 417.1,1796.5 425.4,1795.0C433.7,1793.5 442.0,1792.3 450.4,1791.3C458.8,1790.3 467.2,1789.5 475.5,1788.8C483.8,1788.1 489.2,1788.1 500.0,1787.0C510.8,1785.9 525.2,1783.8 540.2,1782.1C555.2,1780.4 573.6,1778.9 590.3,1777.1C607.0,1775.3 627.9,1772.9 640.4,1771.3C652.9,1769.7 657.1,1769.5 665.4,1767.6C673.7,1765.7 682.9,1762.2 690.4,1760.0C697.9,1757.8 704.2,1755.9 710.5,1754.6C716.8,1753.3 723.1,1752.7 728.0,1752.2C732.9,1751.7 722.4,1752.2 740.0,1751.8C757.6,1751.4 801.3,1750.7 833.6,1750.0C865.9,1749.3 901.2,1748.4 933.7,1747.7C966.2,1747.0 1013.0,1746.3 1028.9,1746.0" fill="none" stroke="#636363" stroke-width="5.8" stroke-linecap="round" stroke-linejoin="round"/>
<path d="M227.2,1959.5C229.0,1957.2 234.2,1950.0 238.0,1945.5C241.8,1941.0 243.8,1938.8 250.0,1932.5C256.2,1926.2 266.7,1916.1 275.1,1907.8C283.5,1899.5 291.9,1890.2 300.2,1882.7C308.5,1875.2 316.8,1868.5 325.2,1862.7C333.6,1856.9 341.9,1851.7 350.3,1847.7C358.7,1843.7 367.0,1841.0 375.3,1838.9C383.6,1836.8 392.0,1835.4 400.4,1835.0C408.8,1834.6 417.1,1835.5 425.4,1836.4C433.7,1837.3 443.8,1839.2 450.4,1840.5C457.0,1841.8 458.4,1842.2 465.0,1844.0C471.6,1845.8 481.6,1849.4 490.0,1851.5C498.4,1853.6 507.6,1855.9 515.1,1856.5C522.6,1857.1 529.4,1856.5 535.2,1855.2C541.1,1854.0 545.2,1851.9 550.2,1849.0C555.2,1846.1 560.2,1841.7 565.2,1837.7C570.2,1833.7 575.2,1829.0 580.2,1825.2C585.2,1821.5 589.4,1818.8 595.3,1815.2C601.1,1811.7 607.8,1807.0 615.3,1803.9C622.8,1800.8 632.0,1798.3 640.4,1796.4C648.8,1794.5 657.1,1793.8 665.4,1792.6C673.7,1791.3 682.0,1790.1 690.4,1788.9C698.8,1787.7 707.2,1786.7 715.5,1785.6C723.8,1784.5 731.5,1783.0 740.0,1782.1C748.5,1781.2 751.2,1781.5 766.8,1780.0C782.4,1778.5 811.4,1775.1 833.6,1773.0C855.9,1770.9 878.0,1769.8 900.3,1767.5C922.5,1765.2 949.6,1761.8 967.1,1759.5C984.6,1757.2 994.7,1755.2 1005.0,1753.5C1015.3,1751.8 1024.9,1749.8 1028.9,1749.0" fill="none" stroke="#636363" stroke-width="5.8" stroke-linecap="round" stroke-linejoin="round"/>
<path d="M79.5,1830.2H1100.8M663,1706V2451M79.5,1830.2v10.3M225.4,1830.2v10.3M371.3,1830.2v10.3M517.2,1830.2v10.3M663.1,1830.2v10.3M809.0,1830.2v10.3M954.9,1830.2v10.3M1100.8,1830.2v10.3M663,1706.0h-10.3M663,1830.2h-10.3M663,1954.3h-10.3M663,2078.4h-10.3M663,2202.6h-10.3M663,2326.8h-10.3M663,2450.9h-10.3" fill="none" stroke="#939393" stroke-width="2.3"/>
<text x="79.5" y="1883" font-size="31.5" text-anchor="middle" font-weight="normal" fill="#000" textLength="60.3" lengthAdjust="spacingAndGlyphs">-800</text>
<text x="225.4" y="1883" font-size="31.5" text-anchor="middle" font-weight="normal" fill="#000" textLength="60.3" lengthAdjust="spacingAndGlyphs">-600</text>
<text x="371.3" y="1883" font-size="31.5" text-anchor="middle" font-weight="normal" fill="#000" textLength="60.3" lengthAdjust="spacingAndGlyphs">-400</text>
<text x="517.2" y="1883" font-size="31.5" text-anchor="middle" font-weight="normal" fill="#000" textLength="60.3" lengthAdjust="spacingAndGlyphs">-200</text>
<text x="663.1" y="1883" font-size="31.5" text-anchor="middle" font-weight="normal" fill="#000" textLength="18.4" lengthAdjust="spacingAndGlyphs">0</text>
<text x="809.0" y="1883" font-size="31.5" text-anchor="middle" font-weight="normal" fill="#000" textLength="50.6" lengthAdjust="spacingAndGlyphs">200</text>
<text x="954.9" y="1883" font-size="31.5" text-anchor="middle" font-weight="normal" fill="#000" textLength="50.6" lengthAdjust="spacingAndGlyphs">400</text>
<text x="1100.8" y="1883" font-size="31.5" text-anchor="middle" font-weight="normal" fill="#000" textLength="50.6" lengthAdjust="spacingAndGlyphs">600</text>
<text x="630.9" y="1715.7" font-size="31.5" text-anchor="end" font-weight="normal" fill="#000" textLength="34.5" lengthAdjust="spacingAndGlyphs">20</text>
<text x="630.9" y="1839.9" font-size="31.5" text-anchor="end" font-weight="normal" fill="#000" textLength="18.4" lengthAdjust="spacingAndGlyphs">0</text>
<text x="630.9" y="1964.0" font-size="31.5" text-anchor="end" font-weight="normal" fill="#000" textLength="44.2" lengthAdjust="spacingAndGlyphs">-20</text>
<text x="630.9" y="2088.1" font-size="31.5" text-anchor="end" font-weight="normal" fill="#000" textLength="44.2" lengthAdjust="spacingAndGlyphs">-40</text>
<text x="630.9" y="2212.3" font-size="31.5" text-anchor="end" font-weight="normal" fill="#000" textLength="44.2" lengthAdjust="spacingAndGlyphs">-60</text>
<text x="630.9" y="2336.4" font-size="31.5" text-anchor="end" font-weight="normal" fill="#000" textLength="44.2" lengthAdjust="spacingAndGlyphs">-80</text>
<text x="630.9" y="2460.6" font-size="31.5" text-anchor="end" font-weight="normal" fill="#000" textLength="60.3" lengthAdjust="spacingAndGlyphs">-100</text>
<text x="589.9" y="2485.3" font-size="29.3" text-anchor="middle" font-weight="bold" fill="#000" textLength="340.5" lengthAdjust="spacingAndGlyphs">Voltage (mV vs. Ag/AgCl)</text>
<text x="68.1" y="2078.9" font-size="29.3" text-anchor="middle" font-weight="bold" fill="#000" textLength="170" lengthAdjust="spacingAndGlyphs" transform="rotate(-90 68.1 2078.9)">Current (µA)</text>
<text x="7.5" y="1739" font-size="43" text-anchor="start" font-weight="bold" fill="#000">C</text>
<path d="M970,2054.8H1028.5" fill="none" stroke="#585858" stroke-width="5" stroke-linecap="round" stroke-linejoin="round" stroke-dasharray="9.5 11"/>
<path d="M970,2109.6H1028.5" fill="none" stroke="#959595" stroke-width="5" stroke-linecap="round" stroke-linejoin="round"/>
<path d="M970,2164H1028.5" fill="none" stroke="#636363" stroke-width="5" stroke-linecap="round" stroke-linejoin="round"/>
<text x="1037" y="2063.8" font-size="29.5" text-anchor="start" font-weight="normal" fill="#000" textLength="153.2" lengthAdjust="spacingAndGlyphs">SWB Media</text>
<text x="1037.4" y="2118" font-size="29.5" text-anchor="start" font-weight="normal" fill="#000" textLength="91.3" lengthAdjust="spacingAndGlyphs">Biofilm</text>
<text x="1037.8" y="2172.7" font-size="29.5" text-anchor="start" font-weight="normal" fill="#000" textLength="138.2" lengthAdjust="spacingAndGlyphs">Planktonic</text>
</svg>
</body></html>
